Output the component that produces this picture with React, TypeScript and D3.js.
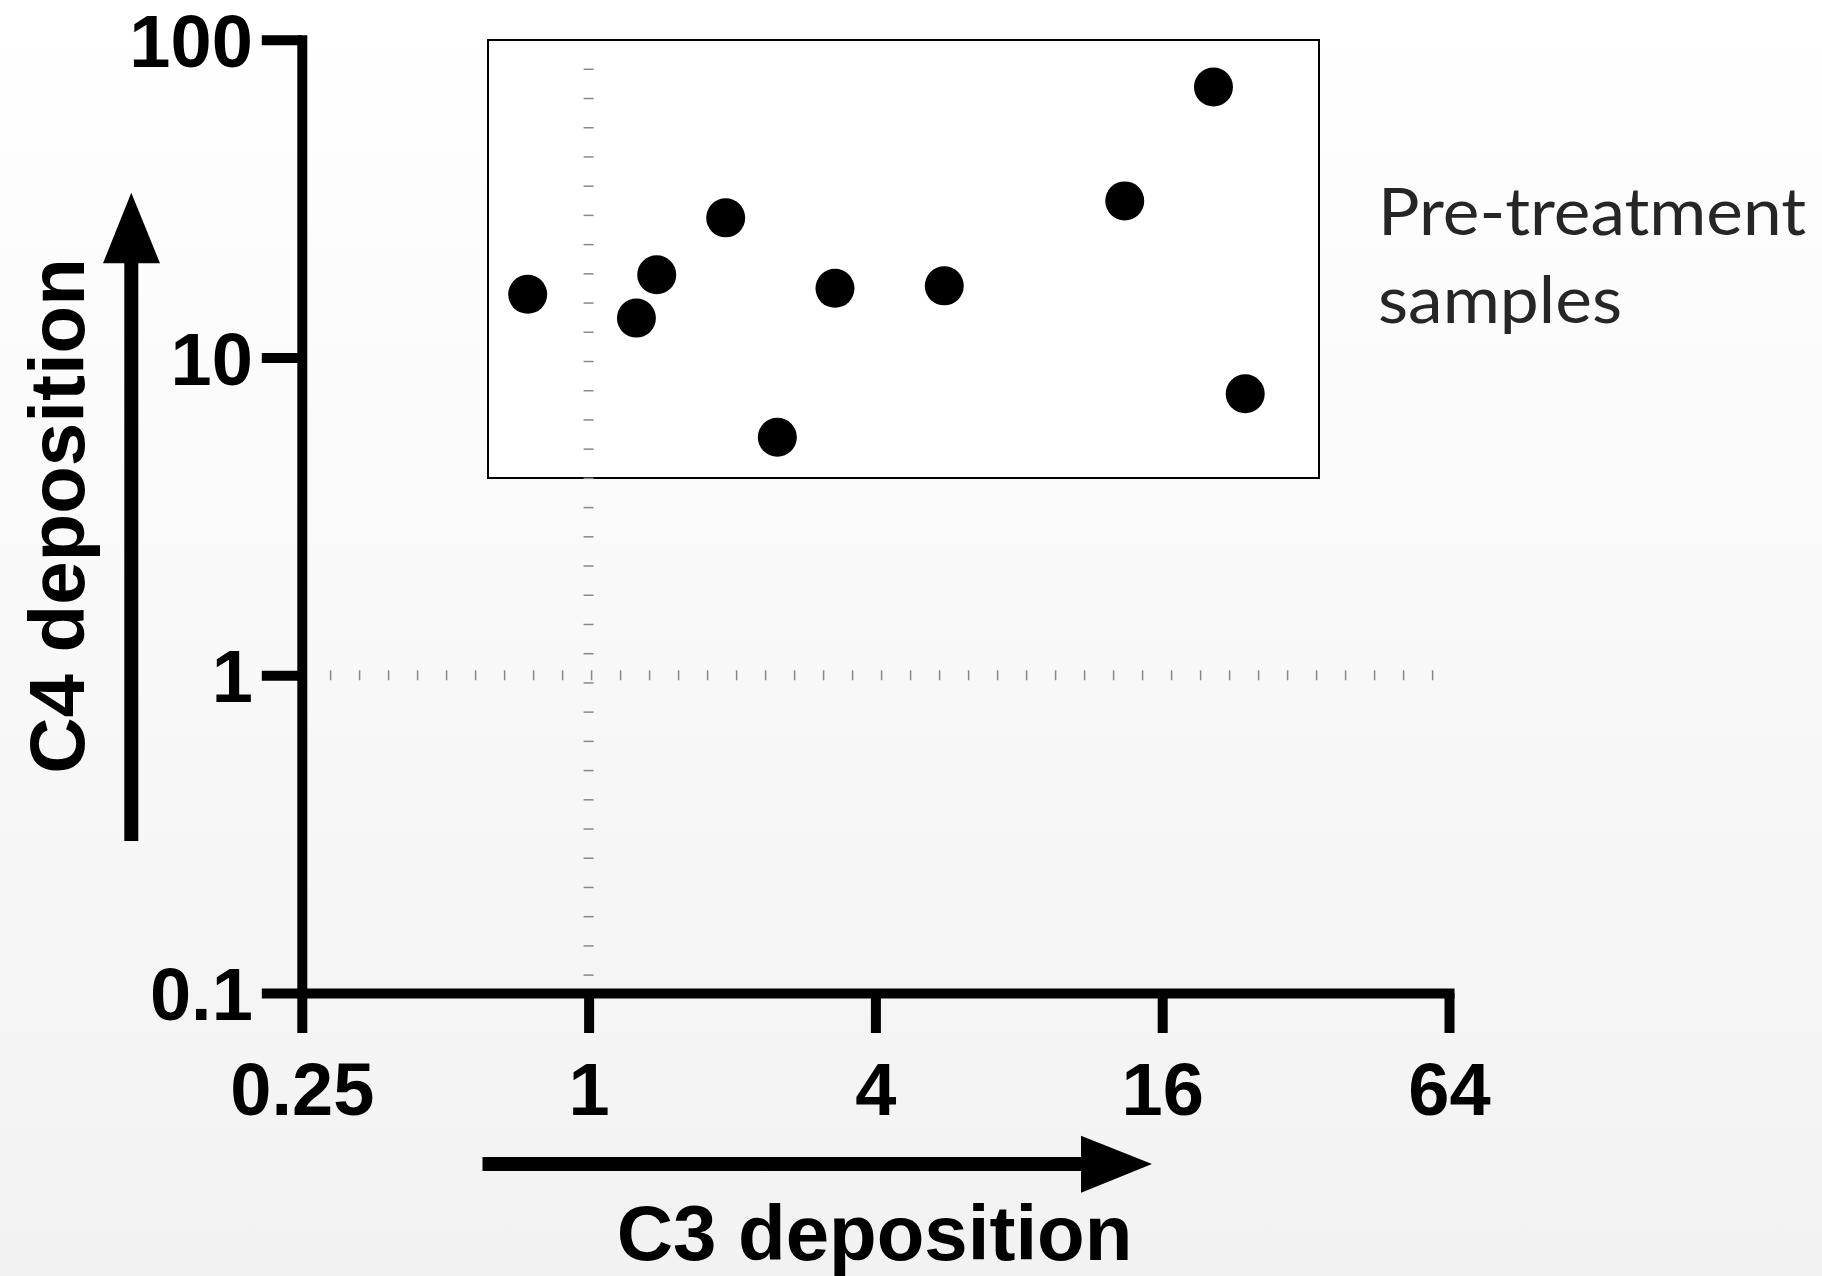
import React, { useEffect, useRef } from 'react';
import * as d3 from 'd3';

const W = 1822;
const H = 1276;

// C3 deposition (x) and C4 deposition (y) per pre-treatment sample
const c3Values = [0.745, 1.26, 1.39, 1.94, 2.49, 3.29, 5.58, 13.35, 20.5, 23.9];
const c4Values = [15.8, 13.3, 18.2, 27.5, 5.61, 16.5, 16.8, 31.1, 71.0, 7.69];

const xTicks = [0.25, 1, 4, 16, 64];
const xTickLabels = ['0.25', '1', '4', '16', '64'];
const yTicks = [0.1, 1, 10, 100];
const yTickLabels = ['0.1', '1', '10', '100'];

const xTitle = 'C3 deposition';
const yTitle = 'C4 deposition';
const noteLines = ['Pre-treatment', 'samples'];

const BOLD = '"Liberation Sans", Arial, Helvetica, sans-serif';

export default function App() {
  const ref = useRef<SVGSVGElement | null>(null);

  useEffect(() => {
    const el = ref.current;
    if (!el) return;
    const svg = d3.select(el);
    svg.selectAll('*').remove();

    const x = d3.scaleLog().base(2).domain([0.25, 64]).range([301.8, 1449]);
    const y = d3.scaleLog().domain([0.1, 100]).range([993, 39.7]);

    // background gradient
    const defs = svg.append('defs');
    const grad = defs
      .append('linearGradient')
      .attr('id', 'bg')
      .attr('x1', 0)
      .attr('y1', 0)
      .attr('x2', 0)
      .attr('y2', 1);
    grad.append('stop').attr('offset', '0%').attr('stop-color', '#ffffff');
    grad.append('stop').attr('offset', '100%').attr('stop-color', '#f2f2f2');
    svg.append('rect').attr('width', W).attr('height', H).attr('fill', 'url(#bg)');

    // box around the pre-treatment samples
    svg
      .append('rect')
      .attr('x', 488)
      .attr('y', 40)
      .attr('width', 831)
      .attr('height', 438)
      .attr('fill', '#ffffff')
      .attr('stroke', '#000')
      .attr('stroke-width', 2);

    // dotted reference lines at x = 1 and y = 1
    const hMarks = d3.range(x.range()[0] + 28.8, x.range()[1] - 10, 29.0);
    svg
      .append('g')
      .selectAll('line')
      .data(hMarks)
      .join('line')
      .attr('x1', (d) => d)
      .attr('x2', (d) => d)
      .attr('y1', y(1) - 5)
      .attr('y2', y(1) + 5)
      .attr('stroke', '#888')
      .attr('stroke-width', 1.5);

    const vMarks = d3.range(y.range()[1] + 29.6, y.range()[0] - 10, 29.22);
    svg
      .append('g')
      .selectAll('line')
      .data(vMarks)
      .join('line')
      .attr('x1', x(1) - 5)
      .attr('x2', x(1) + 5)
      .attr('y1', (d) => d)
      .attr('y2', (d) => d)
      .attr('stroke', '#888')
      .attr('stroke-width', 1.5);

    // axes
    const yAxis = svg
      .append('g')
      .attr('transform', `translate(${x.range()[0]},0)`)
      .call(d3.axisLeft(y).tickValues(yTicks).tickSize(40).tickSizeOuter(0).tickPadding(9).tickFormat((_, i) => yTickLabels[i]));
    const xAxis = svg
      .append('g')
      .attr('transform', `translate(0,${y.range()[0]})`)
      .call(d3.axisBottom(x).tickValues(xTicks).tickSize(40).tickSizeOuter(0).tickPadding(30).tickFormat((_, i) => xTickLabels[i]));

    [yAxis, xAxis].forEach((ax) => {
      ax.select('.domain').attr('stroke', '#000').attr('stroke-width', 10).attr('stroke-linecap', 'square');
      ax.selectAll('.tick line').attr('stroke', '#000').attr('stroke-width', 10);
      ax.selectAll('.tick text')
        .attr('fill', '#000')
        .attr('font-family', BOLD)
        .attr('font-weight', 'bold')
        .attr('font-size', 74);
    });
    yAxis.selectAll('.tick text').attr('dy', '0.36em');
    xAxis.selectAll('.tick text').attr('dy', '0.70em');

    // points
    svg
      .append('g')
      .selectAll('circle')
      .data(c3Values.map((v, i) => [v, c4Values[i]]))
      .join('circle')
      .attr('cx', (d) => x(d[0]))
      .attr('cy', (d) => y(d[1]))
      .attr('r', 19.5)
      .attr('fill', '#000');

    // axis titles with arrows
    svg
      .append('text')
      .attr('x', 874.5)
      .attr('y', 1260)
      .attr('text-anchor', 'middle')
      .attr('font-family', BOLD)
      .attr('font-weight', 'bold')
      .attr('font-size', 78)
      .attr('fill', '#000')
      .text(xTitle);

    svg
      .append('text')
      .attr('transform', 'translate(84.3,516) rotate(-90)')
      .attr('text-anchor', 'middle')
      .attr('font-family', BOLD)
      .attr('font-weight', 'bold')
      .attr('font-size', 78)
      .attr('fill', '#000')
      .text(yTitle);

    // x arrow
    svg
      .append('rect')
      .attr('x', 482.5)
      .attr('y', 1157)
      .attr('width', 600)
      .attr('height', 14)
      .attr('fill', '#000');
    svg
      .append('path')
      .attr('d', 'M1081,1135.7 L1152,1164 L1081,1192.7 Z')
      .attr('fill', '#000');

    // y arrow
    svg
      .append('rect')
      .attr('x', 124.3)
      .attr('y', 262)
      .attr('width', 14)
      .attr('height', 579)
      .attr('fill', '#000');
    svg
      .append('path')
      .attr('d', 'M103,263.3 L131.3,192.7 L160,263.3 Z')
      .attr('fill', '#000');

    // note
    const noteWidths = [428, 244];
    svg
      .append('g')
      .selectAll('text')
      .data(noteLines)
      .join('text')
      .attr('x', 1378)
      .attr('y', (_, i) => 235 + i * 88)
      .attr('font-family', 'Lato, "Open Sans", sans-serif')
      .attr('font-size', 65)
      .attr('fill', '#262626')
      .attr('textLength', (_, i) => noteWidths[i])
      .attr('lengthAdjust', 'spacingAndGlyphs')
      .text((d) => d);
  }, []);

  return (
    <svg
      ref={ref}
      width={W}
      height={H}
      style={{ position: 'absolute', left: 0, top: 0, display: 'block' }}
    />
  );
}
